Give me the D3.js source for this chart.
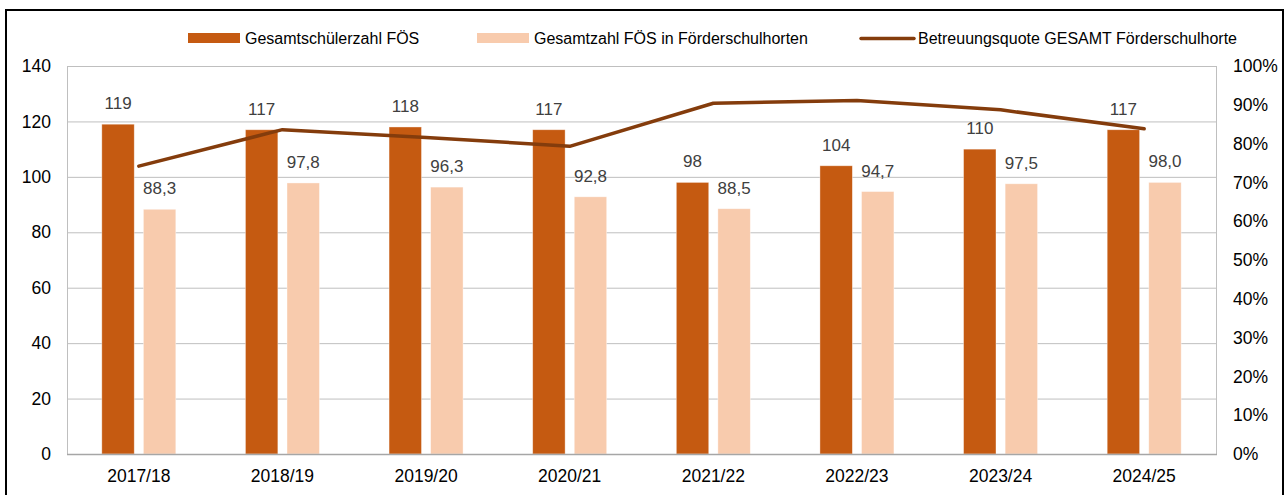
<!DOCTYPE html>
<html>
<head>
<meta charset="utf-8">
<script src="https://cdn.jsdelivr.net/npm/d3@7"></script>
<style>
  html, body { margin: 0; padding: 0; background: #fff; }
  svg { display: block; font-family: "Liberation Sans", Arial, sans-serif; }
</style>
</head>
<body>
<svg id="chart" width="1285" height="495"></svg>
<script>
// School years
const categories = ["2017/18", "2018/19", "2019/20", "2020/21", "2021/22", "2022/23", "2023/24", "2024/25"];
// Total pupils at special schools (FÖS)
const pupilsTotal = [119, 117, 118, 117, 98, 104, 110, 117];
// Pupils of special schools attending after-school care
const pupilsInCare = [88.3, 97.8, 96.3, 92.8, 88.5, 94.7, 97.5, 98.0];
// Care ratio in percent
const careRatio = [74.2, 83.6, 81.6, 79.3, 90.4, 91.1, 88.7, 83.8];
// Axis ticks
const leftTicks = [0, 20, 40, 60, 80, 100, 120, 140];
const rightTicks = [0, 10, 20, 30, 40, 50, 60, 70, 80, 90, 100];

const seriesNames = ["Gesamtschülerzahl FÖS", "Gesamtzahl FÖS in Förderschulhorten", "Betreuungsquote GESAMT Förderschulhorte"];
const colors = { dark: "#C55A11", light: "#F8CBAD", line: "#843C0C", grid: "#BFBFBF", label: "#404040" };

const svg = d3.select("#chart");
const plot = { left: 67, right: 1216, top: 66, bottom: 454 };

// Outer frame
svg.append("rect")
  .attr("x", 6).attr("y", 10)
  .attr("width", 1277).attr("height", 495)
  .attr("fill", "none").attr("stroke", "#000").attr("stroke-width", 2);

const x = d3.scaleBand().domain(categories).range([plot.left, plot.right]);
const xInner = d3.scaleBand().domain(["total", "care"]).range([-37, 37]).paddingInner(0.22);
const y = d3.scaleLinear().domain([0, 140]).range([plot.bottom, plot.top]);
const yPct = d3.scaleLinear().domain([0, 100]).range([plot.bottom, plot.top]);

// Gridlines
svg.append("g").selectAll("line").data(leftTicks).join("line")
  .attr("x1", plot.left).attr("x2", plot.right)
  .attr("y1", d => y(d) + 0.5).attr("y2", d => y(d) + 0.5)
  .attr("stroke", colors.grid).attr("stroke-width", 1);

// Plot area sides
svg.append("line").attr("x1", plot.left + 0.5).attr("x2", plot.left + 0.5)
  .attr("y1", plot.top).attr("y2", plot.bottom).attr("stroke", colors.grid);
svg.append("line").attr("x1", plot.right + 0.5).attr("x2", plot.right + 0.5)
  .attr("y1", plot.top).attr("y2", plot.bottom).attr("stroke", colors.grid);

// Left axis
const leftAxis = svg.append("g")
  .attr("transform", `translate(${plot.left},0)`)
  .call(d3.axisLeft(y).tickValues(leftTicks).tickSize(0).tickPadding(16));
leftAxis.select(".domain").remove();
leftAxis.selectAll("text").attr("font-size", 17.5).attr("fill", "#000")
  .attr("font-family", "Liberation Sans, Arial, sans-serif");

// Right axis
const rightAxis = svg.append("g")
  .attr("transform", `translate(${plot.right},0)`)
  .call(d3.axisRight(yPct).tickValues(rightTicks).tickSize(0).tickPadding(17).tickFormat(d => d + "%"));
rightAxis.select(".domain").remove();
rightAxis.selectAll("text").attr("font-size", 17.5).attr("fill", "#000")
  .attr("font-family", "Liberation Sans, Arial, sans-serif");

// Bottom axis
const bottomAxis = svg.append("g")
  .attr("transform", `translate(0,${plot.bottom})`)
  .call(d3.axisBottom(x).tickSize(0).tickPadding(16));
bottomAxis.select(".domain").remove();
bottomAxis.selectAll("text").attr("font-size", 17.5).attr("fill", "#000")
  .attr("font-family", "Liberation Sans, Arial, sans-serif");

// Bars
const groups = svg.append("g").selectAll("g").data(categories).join("g")
  .attr("transform", d => `translate(${x(d) + x.bandwidth() / 2},0)`);

groups.append("rect")
  .attr("x", xInner("total")).attr("width", xInner.bandwidth())
  .attr("y", (d, i) => y(pupilsTotal[i]))
  .attr("height", (d, i) => y(0) - y(pupilsTotal[i]))
  .attr("fill", colors.dark).attr("stroke", "#fff").attr("stroke-opacity", 0.5).attr("stroke-width", 0.75);

groups.append("rect")
  .attr("x", xInner("care")).attr("width", xInner.bandwidth())
  .attr("y", (d, i) => y(pupilsInCare[i]))
  .attr("height", (d, i) => y(0) - y(pupilsInCare[i]))
  .attr("fill", colors.light).attr("stroke", "#fff").attr("stroke-opacity", 0.5).attr("stroke-width", 0.75);

// Baseline
svg.append("line").attr("x1", plot.left).attr("x2", plot.right + 1)
  .attr("y1", plot.bottom + 0.5).attr("y2", plot.bottom + 0.5)
  .attr("stroke", "#A6A6A6").attr("stroke-width", 1.5);

// Bar value labels
const fmt = d3.format(".1f");
groups.append("text")
  .attr("x", xInner("total") + xInner.bandwidth() / 2)
  .attr("y", (d, i) => y(pupilsTotal[i]) - 15)
  .attr("text-anchor", "middle").attr("font-size", 17).attr("fill", colors.label)
  .text((d, i) => pupilsTotal[i]);

groups.append("text")
  .attr("x", xInner("care") + xInner.bandwidth() / 2)
  .attr("y", (d, i) => y(pupilsInCare[i]) - 15)
  .attr("text-anchor", "middle").attr("font-size", 17).attr("fill", colors.label)
  .text((d, i) => fmt(pupilsInCare[i]).replace(".", ","));

// Ratio line
const line = d3.line()
  .x((d, i) => x(categories[i]) + x.bandwidth() / 2)
  .y(d => yPct(d));
svg.append("path").datum(careRatio)
  .attr("d", line)
  .attr("fill", "none").attr("stroke", colors.line).attr("stroke-width", 3.5)
  .attr("stroke-linejoin", "round").attr("stroke-linecap", "round");

// Legend
const legend = svg.append("g").attr("font-size", 16).attr("fill", "#000");
const legendItems = [
  { name: seriesNames[0], x: 188, type: "bar", color: colors.dark },
  { name: seriesNames[1], x: 477, type: "bar", color: colors.light },
  { name: seriesNames[2], x: 860, type: "line", color: colors.line }
];
legendItems.forEach(item => {
  if (item.type === "bar") {
    legend.append("rect").attr("x", item.x).attr("y", 33).attr("width", 52).attr("height", 10).attr("fill", item.color);
  } else {
    legend.append("line").attr("x1", item.x + 1).attr("x2", item.x + 54).attr("y1", 38.5).attr("y2", 38.5)
      .attr("stroke", item.color).attr("stroke-width", 3.5).attr("stroke-linecap", "round");
  }
  legend.append("text").attr("x", item.x + (item.type === "bar" ? 57 : 58)).attr("y", 44)
    .text(item.name);
});
</script>
</body>
</html>
